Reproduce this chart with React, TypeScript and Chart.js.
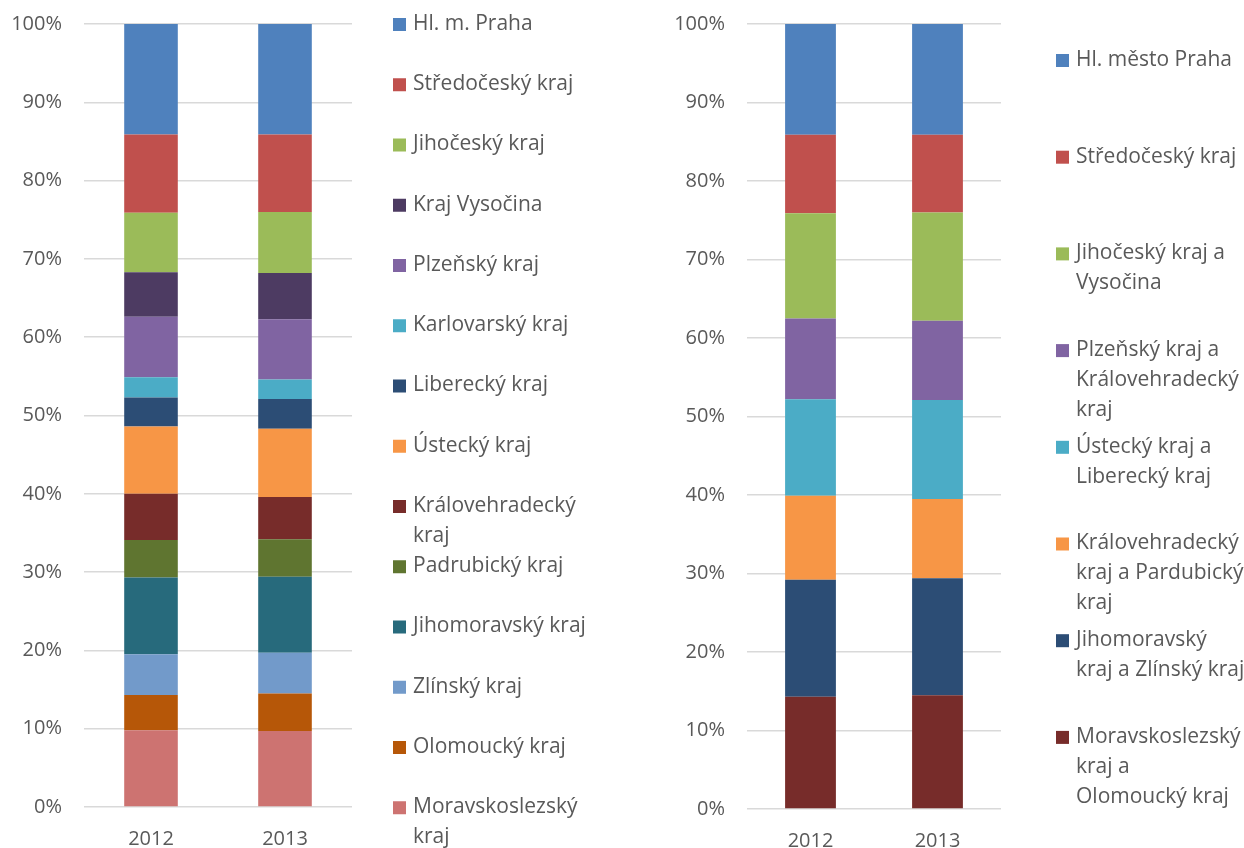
import React, { useEffect, useRef } from "react";
import { Chart, registerables } from "chart.js";

Chart.register(...registerables);

const years = ["2012", "2013"];
const yTickValues = [0, 10, 20, 30, 40, 50, 60, 70, 80, 90, 100];

// Left chart (top of stack first)
const leftRegions = [
  "Hl. m. Praha",
  "Středočeský kraj",
  "Jihočeský kraj",
  "Kraj Vysočina",
  "Plzeňský kraj",
  "Karlovarský kraj",
  "Liberecký kraj",
  "Ústecký kraj",
  "Královehradecký\nkraj",
  "Padrubický kraj",
  "Jihomoravský kraj",
  "Zlínský kraj",
  "Olomoucký kraj",
  "Moravskoslezský\nkraj",
];
const left2012 = [14.1, 10.0, 7.6, 5.7, 7.7, 2.6, 3.7, 8.6, 5.9, 4.8, 9.8, 5.2, 4.5, 9.8];
const left2013 = [14.1, 9.9, 7.8, 5.9, 7.7, 2.5, 3.8, 8.7, 5.4, 4.8, 9.7, 5.2, 4.8, 9.7];
const leftColors = [
  "#4F81BD", "#C0504D", "#9BBB59", "#4D3B62", "#8064A2", "#4BACC6", "#2C4D75",
  "#F79646", "#772C2A", "#5F7530", "#276A7C", "#729ACA", "#B65708", "#CD7371",
];

// Right chart (top of stack first)
const rightRegions = [
  "Hl. město Praha",
  "Středočeský kraj",
  "Jihočeský kraj a\nVysočina",
  "Plzeňský kraj a\nKrálovehradecký\nkraj",
  "Ústecký kraj a\nLiberecký kraj",
  "Královehradecký\nkraj a Pardubický\nkraj",
  "Jihomoravský\nkraj a Zlínský kraj",
  "Moravskoslezský\nkraj a\nOlomoucký kraj",
];
const right2012 = [14.1, 10.0, 13.4, 10.3, 12.3, 10.7, 14.9, 14.3];
const right2013 = [14.1, 9.9, 13.8, 10.1, 12.6, 10.1, 14.9, 14.5];
const rightColors = ["#4F81BD", "#C0504D", "#9BBB59", "#8064A2", "#4BACC6", "#F79646", "#2C4D75", "#772C2A"];

const FONT = "'Open Sans', 'DejaVu Sans', sans-serif";
const TEXT = "#595959";
const GRID = "#D9D9D9";

type Cfg = {
  labels: string[];
  v2012: number[];
  v2013: number[];
  colors: string[];
  width: number;
  areaLeft: number;
  areaRight: number;
  areaBottom: number;
  legendX: number;
  legendY: number;
  legendPitch: number;
};

function StackChart(props: Cfg) {
  const ref = useRef<HTMLCanvasElement | null>(null);
  useEffect(() => {
    const c = props;
    const n = c.labels.length;
    const datasets = [] as any[];
    for (let i = n - 1; i >= 0; i--) {
      datasets.push({
        label: c.labels[i].replace(/\n/g, " "),
        data: [c.v2012[i], c.v2013[i]],
        backgroundColor: c.colors[i],
        borderWidth: 0,
        categoryPercentage: 0.8,
        barPercentage: 0.5,
      });
    }
    const legendPlugin = {
      id: "sideLegend",
      afterDraw(chart: any) {
        const ctx = chart.ctx;
        ctx.save();
        ctx.font = `21px ${FONT}`;
        ctx.textBaseline = "middle";
        ctx.textAlign = "left";
        for (let i = 0; i < n; i++) {
          const y = c.legendY + i * c.legendPitch;
          ctx.fillStyle = c.colors[i];
          ctx.fillRect(c.legendX, y - 6, 13, 13);
          ctx.fillStyle = TEXT;
          const lines = c.labels[i].split("\n");
          lines.forEach((ln, k) => ctx.fillText(ln, c.legendX + 20, y + k * 30));
        }
        ctx.restore();
      },
    };
    const chart = new Chart(ref.current as HTMLCanvasElement, {
      type: "bar",
      data: { labels: years, datasets },
      options: {
        animation: false,
        responsive: false,
        devicePixelRatio: 1,
        layout: { padding: { left: 0, right: c.width - c.areaRight, top: 24, bottom: 0 } },
        plugins: { legend: { display: false }, tooltip: { enabled: false } },
        scales: {
          x: {
            stacked: true,
            grid: { display: false },
            border: { display: false },
            ticks: { color: TEXT, font: { family: FONT, size: 20 }, padding: 12 },
            afterFit: (s: any) => { s.height = 848 - c.areaBottom; s.paddingLeft = 0; s.paddingRight = 0; },
          },
          y: {
            stacked: true,
            min: 0,
            max: 100,
            afterBuildTicks: (s: any) => { s.ticks = yTickValues.map((v) => ({ value: v })); },
            ticks: {
              color: TEXT,
              font: { family: FONT, size: 20 },
              padding: 22,
              callback: (v: any) => `${v}%`,
            },
            grid: { color: GRID, lineWidth: 1.5, drawTicks: false },
            border: { display: false },
            afterFit: (s: any) => { s.width = c.areaLeft; s.paddingTop = 0; s.paddingBottom = 0; },
          },
        },
      },
      plugins: [legendPlugin],
    });
    return () => chart.destroy();
  }, []);
  return <canvas ref={ref} width={props.width} height={848} style={{ display: "block", width: props.width, height: 848 }} />;
}

export default function App() {
  return (
    <div style={{ position: "absolute", left: 0, top: 0, width: 1244, height: 848, display: "flex", background: "#fff" }}>
      <StackChart
        labels={leftRegions}
        v2012={left2012}
        v2013={left2013}
        colors={leftColors}
        width={622}
        areaLeft={84}
        areaRight={352}
        areaBottom={807}
        legendX={393}
        legendY={24}
        legendPitch={60.25}
      />
      <StackChart
        labels={rightRegions}
        v2012={right2012}
        v2013={right2013}
        colors={rightColors}
        width={622}
        areaLeft={125}
        areaRight={379}
        areaBottom={809}
        legendX={434}
        legendY={60}
        legendPitch={96.7}
      />
    </div>
  );
}
